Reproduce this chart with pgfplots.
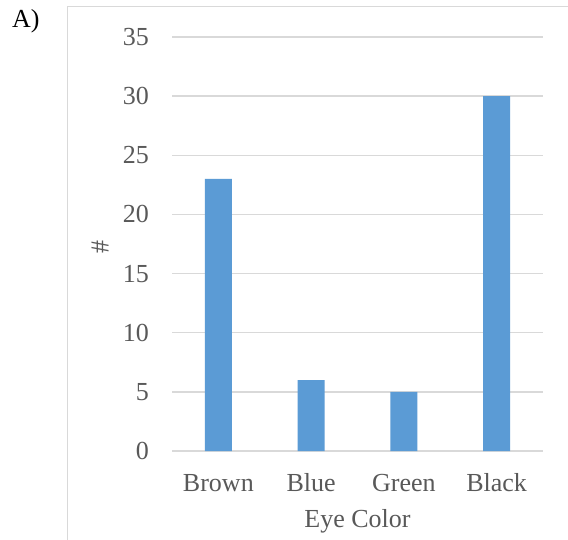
\documentclass[border=0pt]{standalone}
\usepackage{pgfplots}
\pgfplotsset{compat=1.18}
\usepackage{fontspec}
\setmainfont{Liberation Serif}
\definecolor{barblue}{HTML}{5B9BD5}
\definecolor{gridgray}{HTML}{D9D9D9}
\definecolor{textgray}{HTML}{595959}
\begin{document}
\begin{tikzpicture}[x=1pt,y=1pt]
% canvas and chart frame (1 unit = 1 px of the layout)
\useasboundingbox (0,0) rectangle (568,539);
\fill[white] (0,0) rectangle (568,539);
\draw[gridgray, line width=1.5] (67.5,-2) -- (67.5,532.5) -- (570,532.5);
\node[anchor=base west, font=\fontsize{26}{30}\selectfont, inner sep=0pt] at (12,511) {A)};
\begin{axis}[
  at={(172pt,88pt)}, anchor=south west,
  width=371pt, height=414pt, scale only axis,
  xmin=-0.5, xmax=3.5, ymin=0, ymax=35,
  ytick={0,5,...,35},
  xtick={0,1,2,3},
  xticklabels={Brown,Blue,Green,Black},
  axis line style={draw=none},
  major tick length=0pt,
  ymajorgrids,
  grid style={gridgray, line width=1.5},
  ticklabel style={font=\fontsize{26}{30}\selectfont, text=textgray},
  /pgf/number format/assume math mode=true,
  yticklabel style={anchor=east, inner sep=0pt, xshift=-23pt},
  xticklabel style={anchor=base, inner sep=0pt, yshift=-40pt},
  xlabel={Eye Color},
  ylabel={\#},
  label style={font=\fontsize{26}{30}\selectfont, text=textgray, inner sep=0pt},
  xlabel style={at={(axis description cs:0.5,0)}, anchor=base, yshift=-76pt},
  ylabel style={at={(axis description cs:-0.194,0.493)}, anchor=center},
  clip=false,
]
\addplot[ybar, bar width=27pt, fill=barblue, draw=none]
  coordinates {(0,23) (1,6) (2,5) (3,30)};
\end{axis}
\end{tikzpicture}
\end{document}
